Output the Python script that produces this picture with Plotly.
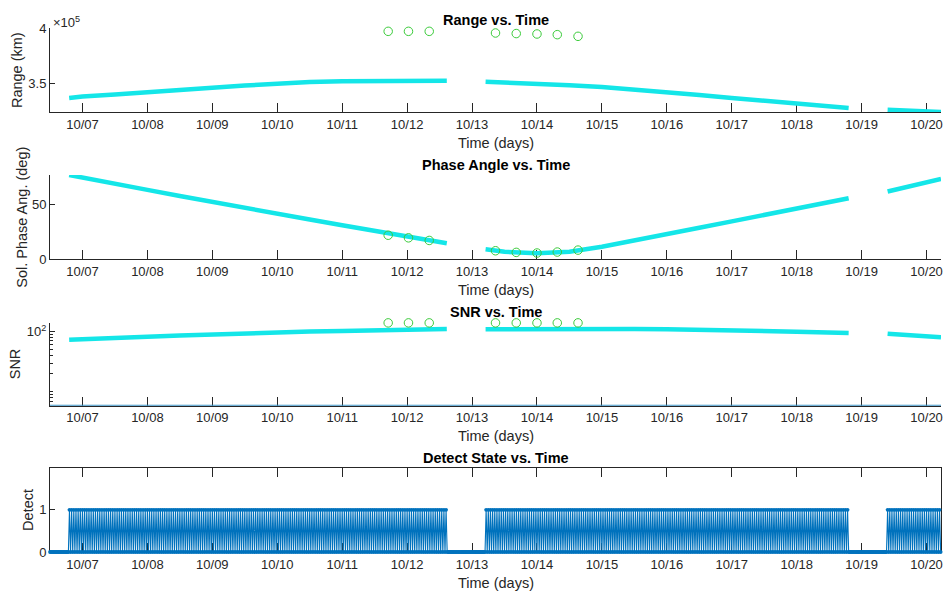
import pandas as pd
import plotly.graph_objects as go

# ---------------- observation passes (UTC) ----------------
pass1_times = ["2024-10-06 19:05", "2024-10-07 00:00", "2024-10-07 12:00", "2024-10-08 00:00",
               "2024-10-08 12:00", "2024-10-09 00:00", "2024-10-09 12:00", "2024-10-10 00:00",
               "2024-10-10 12:00", "2024-10-11 00:00", "2024-10-11 12:00", "2024-10-12 00:00",
               "2024-10-12 14:40"]
pass2_times = ["2024-10-13 05:00", "2024-10-13 12:00", "2024-10-14 00:00", "2024-10-14 12:00",
               "2024-10-15 00:00", "2024-10-15 12:00", "2024-10-16 00:00", "2024-10-16 12:00",
               "2024-10-17 00:00", "2024-10-17 12:00", "2024-10-18 00:00", "2024-10-18 19:12"]
pass3_times = ["2024-10-19 09:36", "2024-10-20 05:20"]

# range to target (km)
pass1_range = [336900, 338300, 340000, 341700, 343900, 346100, 348200, 350000,
               351300, 352100, 352400, 352500, 352500]
pass2_range = [351500, 350900, 349700, 348400, 346800, 344700, 342300, 339600,
               336900, 334200, 331500, 327900]
pass3_range = [326400, 324300]

# solar phase angle (deg)
pass1_phase = [77.4, 75.2, 69.4, 63.7, 58.0, 52.4, 47.0, 41.8, 36.4, 31.1, 26.0, 21.0, 14.6]
pass2_phase = [8.9, 6.7, 5.2, 6.7, 11.3, 16.8, 22.9, 28.8, 34.7, 40.4, 46.0, 56.0]
pass3_phase = [62.2, 73.8]

# signal-to-noise ratio
pass1_snr = [73.6, 75.5, 79.0, 82.6, 86.6, 90.5, 94.1, 97.5, 100.2, 102.7, 104.0, 108.0, 110.5]
pass2_snr = [109.4, 110.0, 110.8, 110.8, 110.7, 110.5, 110.0, 108.0, 105.3, 102.8, 100.0, 95.0]
pass3_snr = [92.5, 80.5]
snr_floor = 5.85

# measured detections
obs_times = ["2024-10-11 17:00", "2024-10-12 00:30", "2024-10-12 08:10", "2024-10-13 08:40",
             "2024-10-13 16:20", "2024-10-14 00:00", "2024-10-14 07:30", "2024-10-14 15:10"]
obs_range = [397000, 397000, 397000, 395500, 395000, 394600, 394000, 392500]
obs_phase = [21.9, 19.5, 17.1, 7.6, 6.1, 5.5, 6.4, 8.2]
obs_snr = [140.0, 140.0, 140.0, 140.0, 140.0, 140.0, 140.0, 140.0]

# detect state: alternating on/off samples inside each pass, off otherwise
span_start = "2024-10-06 12:00"
span_end = "2024-10-20 05:20"
detect_step_min = 24
detect_pattern = [1, 0]
pass_windows = [(pass1_times[0], pass1_times[-1]),
                (pass2_times[0], pass2_times[-1]),
                (pass3_times[0], pass3_times[-1])]

day_ticks = ["2024-10-%02d" % d for d in range(7, 21)]

# ---------------- styling ----------------
CYAN = "#14E6E8"
GREEN = "#3ACB3A"
BLUE = "#0072BD"
AX = "#262626"
FONT = "Liberation Sans, Arial, Helvetica, sans-serif"

W, H = 948, 591
ML, MR, MT, MB = 50, 5, 28, 39
plot_h = H - MT - MB
plot_w = W - ML - MR


def py(px):
    """pixel row -> paper y"""
    return (H - MB - px) / plot_h


def px_x(px):
    """pixel column -> paper x"""
    return (px - ML) / plot_w


panels = [(28, 112), (175, 259), (322.7, 405.7), (467.7, 552)]

fig = go.Figure()


def add_curve(times, vals, axis_idx):
    suffix = "" if axis_idx == 1 else str(axis_idx)
    fig.add_trace(go.Scatter(x=times, y=vals, mode="lines",
                             line=dict(color=CYAN, width=4.5),
                             xaxis="x" + suffix, yaxis="y" + suffix,
                             showlegend=False, hoverinfo="x+y"))


def add_obs(vals, axis_idx):
    suffix = "" if axis_idx == 1 else str(axis_idx)
    fig.add_trace(go.Scatter(x=obs_times, y=vals, mode="markers",
                             marker=dict(symbol="circle-open", size=8.5,
                                         color=GREEN, line=dict(width=1, color=GREEN)),
                             cliponaxis=False,
                             xaxis="x" + suffix, yaxis="y" + suffix,
                             showlegend=False))


# Range
for t, v in [(pass1_times, pass1_range), (pass2_times, pass2_range), (pass3_times, pass3_range)]:
    add_curve(t, v, 1)
add_obs(obs_range, 1)

# Phase angle
for t, v in [(pass1_times, pass1_phase), (pass2_times, pass2_phase), (pass3_times, pass3_phase)]:
    add_curve(t, v, 2)
add_obs(obs_phase, 2)

# SNR
fig.add_trace(go.Scatter(x=[span_start, span_end], y=[snr_floor, snr_floor], mode="lines",
                         line=dict(color="#3F96C8", width=2), xaxis="x3", yaxis="y3",
                         cliponaxis=False, showlegend=False))
for t, v in [(pass1_times, pass1_snr), (pass2_times, pass2_snr), (pass3_times, pass3_snr)]:
    add_curve(t, v, 3)
add_obs(obs_snr, 3)

# Detect state
grid = pd.date_range(span_start, span_end, freq="%dmin" % detect_step_min)
wins = [(pd.Timestamp(a), pd.Timestamp(b)) for a, b in pass_windows]
states = []
k = 0
for t in grid:
    if any(a <= t <= b for a, b in wins):
        states.append(detect_pattern[k % len(detect_pattern)])
        k += 1
    else:
        states.append(0)
        k = 0
fig.add_trace(go.Scatter(x=grid, y=states, mode="lines+markers",
                         line=dict(color=BLUE, width=1.1, simplify=False),
                         marker=dict(color=BLUE, size=3.8),
                         cliponaxis=False,
                         xaxis="x4", yaxis="y4", showlegend=False))

# ---------------- axes ----------------
tickfont = dict(family=FONT, size=13, color=AX)
layout = dict(width=W, height=H, margin=dict(l=ML, r=MR, t=MT, b=MB),
              paper_bgcolor="white", plot_bgcolor="white", showlegend=False,
              font=dict(family=FONT, color=AX))

y_cfg = [
    dict(range=[324300, 400000], tickvals=[350000, 400000], ticktext=["3.5", "4"]),
    dict(range=[0, 77.4], tickvals=[0, 50], ticktext=["0", "50"]),
    dict(type="log", range=[0.7672, 2.1492], tickvals=[100], ticktext=["10<sup>2</sup>"],
         minor=dict(tickmode="array", tickvals=[6, 7, 8, 9, 10, 20, 30, 40, 50, 60, 70, 80, 90],
                    ticks="inside", ticklen=3, tickcolor=AX)),
    dict(range=[0, 2], tickvals=[0, 1], ticktext=["0", "1"]),
]

for i, (top, bot) in enumerate(panels):
    n = i + 1
    xs = "" if n == 1 else str(n)
    boxed = (n == 4)
    layout["xaxis" + xs] = dict(
        type="date", range=[span_start, span_end], domain=[0, 1],
        anchor="y" + xs, tickvals=day_ticks, tickformat="%m/%d",
        ticks="inside", ticklen=9, tickcolor=AX, tickwidth=1,
        showline=True, linecolor=AX, linewidth=1, showgrid=False, zeroline=False,
        mirror="ticks" if boxed else False, tickfont=tickfont, layer="below traces",
    )
    yc = dict(domain=[py(bot), py(top)], anchor="x" + xs,
              ticks="inside", ticklen=5, tickcolor=AX, tickwidth=1,
              showline=True, linecolor=AX, linewidth=1, showgrid=False, zeroline=False,
              mirror="ticks" if boxed else False, tickfont=tickfont, layer="below traces",
              tickmode="array")
    yc.update(y_cfg[i])
    layout["yaxis" + xs] = yc

fig.update_layout(**layout)

# ---------------- titles and labels ----------------
titles = ["Range vs. Time", "Phase Angle vs. Time", "SNR vs. Time", "Detect State vs. Time"]
title_px = [20, 165.3, 311.7, 457.7]
ylabels = ["Range (km)", "Sol. Phase Ang. (deg)", "SNR", "Detect"]
ylabel_px = [17, 21.7, 15, 28]

for i, (top, bot) in enumerate(panels):
    fig.add_annotation(text="<b>%s</b>" % titles[i], x=0.5, y=py(title_px[i]),
                       xref="paper", yref="paper", showarrow=False,
                       xanchor="center", yanchor="middle",
                       font=dict(family=FONT, size=14.5, color="black"))
    fig.add_annotation(text="Time (days)", x=0.5, y=py(bot + 30.5),
                       xref="paper", yref="paper", showarrow=False,
                       xanchor="center", yanchor="middle",
                       font=dict(family=FONT, size=14.5, color=AX))
    fig.add_annotation(text=ylabels[i], x=px_x(ylabel_px[i]), y=py((top + bot) / 2),
                       xref="paper", yref="paper", showarrow=False, textangle=-90,
                       xanchor="center", yanchor="middle",
                       font=dict(family=FONT, size=14.5, color=AX))

fig.add_annotation(text="\u00d710<sup>5</sup>", x=px_x(51), y=py(21.7),
                   xref="paper", yref="paper", showarrow=False,
                   xanchor="left", yanchor="middle",
                   font=dict(family=FONT, size=13, color=AX))

fig.write_html("out.html")
